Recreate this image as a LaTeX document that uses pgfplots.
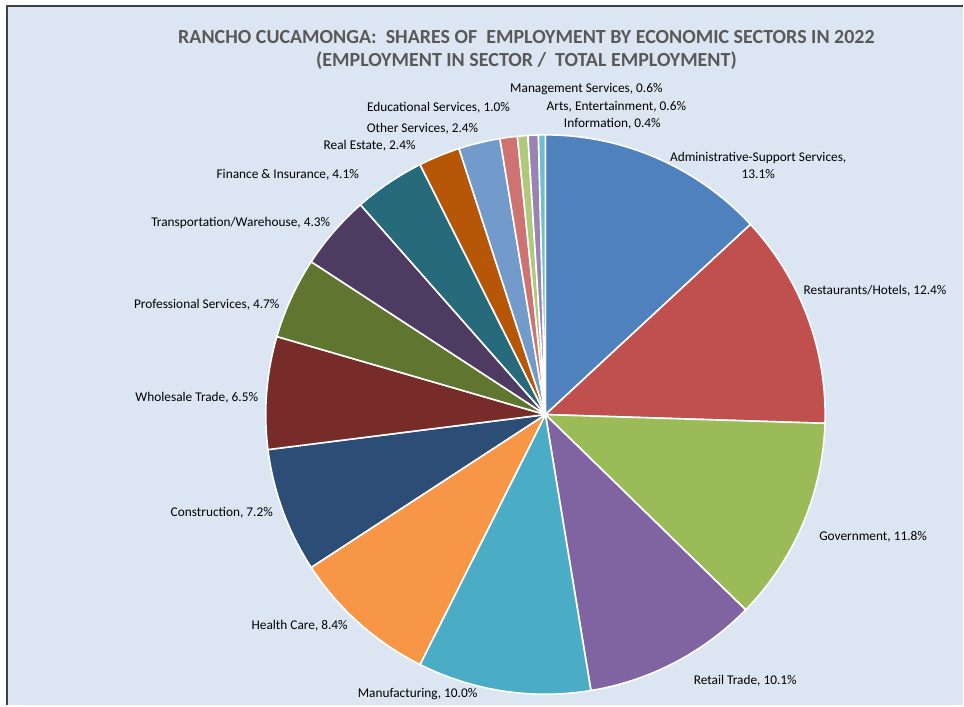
\documentclass[border=0pt]{standalone}
\usepackage{pgfplots}
\usepackage{pgfplotstable}
\pgfplotsset{compat=1.18}
\usepackage{fontspec}
\setmainfont{Carlito}
\definecolor{bg}{HTML}{DCE6F2}
\definecolor{frame}{HTML}{404040}
\definecolor{ttl}{HTML}{595959}
\definecolor{lbl}{HTML}{404040}
\definecolor{pc0}{HTML}{4F81BD}
\definecolor{pc1}{HTML}{C0504D}
\definecolor{pc2}{HTML}{9BBB59}
\definecolor{pc3}{HTML}{8064A2}
\definecolor{pc4}{HTML}{4BACC6}
\definecolor{pc5}{HTML}{F79646}
\definecolor{pc6}{HTML}{2C4D75}
\definecolor{pc7}{HTML}{772C2A}
\definecolor{pc8}{HTML}{5F7530}
\definecolor{pc9}{HTML}{4D3B62}
\definecolor{pc10}{HTML}{276A7C}
\definecolor{pc11}{HTML}{B65708}
\definecolor{pc12}{HTML}{729ACA}
\definecolor{pc13}{HTML}{CD7371}
\definecolor{pc14}{HTML}{AFC97A}
\definecolor{pc15}{HTML}{9983B5}
\definecolor{pc16}{HTML}{6FBDD1}
% shares of employment (percent), clockwise from 12 o'clock
\pgfplotstableread{
share
13.1
12.4
11.8
10.1
10.0
8.4
7.2
6.5
4.7
4.3
4.1
2.4
2.4
1.0
0.6
0.6
0.4
}\pietable
\begin{document}
\begin{tikzpicture}
\begin{axis}[
  x=0.75pt, y=0.75pt,
  xmin=0, xmax=964, ymin=0, ymax=706,
  hide axis, clip=false,
  every node/.style={font=\fontsize{9.6}{11.5}\selectfont, text=lbl, inner sep=0pt},
]
\fill[white] (axis cs:0,0) rectangle (axis cs:964,706);
\fill[bg] (axis cs:8,0) rectangle (axis cs:964,699);
\draw[frame, line width=1.5pt] (axis cs:7.5,0) -- (axis cs:7.5,699.5) -- (axis cs:964,699.5);
% pie slices
\pgfmathsetmacro\angstart{90}
\pgfplotstablegetrowsof{\pietable}
\pgfmathtruncatemacro\nrows{\pgfplotsretval-1}
\pgfplotsforeachungrouped \i in {0,...,\nrows}{%
  \pgfplotstablegetelem{\i}{share}\of\pietable
  \pgfmathsetmacro\angend{\angstart-3.6*\pgfplotsretval}%
  \edef\temp{\noexpand\fill[pc\i, draw=white, line width=1.2pt, line join=round] (axis cs:546,291) -- ++(\angstart:210pt) arc[start angle=\angstart, end angle=\angend, radius=210pt] -- cycle;}%
  \temp
  \global\let\angstart\angend
}
% title
\node[font=\bfseries\fontsize{15}{18}\selectfont, text=ttl] at (axis cs:527,669) {RANCHO CUCAMONGA:\ \ SHARES OF\ \ EMPLOYMENT BY ECONOMIC SECTORS IN 2022};
\node[font=\bfseries\fontsize{15}{18}\selectfont, text=ttl] at (axis cs:527,645) {(EMPLOYMENT IN SECTOR /\ \ TOTAL EMPLOYMENT)};
% labels
\node[align=center] at (axis cs:759,540) {Administrative-Support Services,\\[0.6pt]13.1\%};
\node at (axis cs:876,415) {Restaurants/Hotels, 12.4\%};
\node at (axis cs:874,169) {Government, 11.8\%};
\node at (axis cs:746,25) {Retail Trade, 10.1\%};
\node at (axis cs:418,11) {Manufacturing, 10.0\%};
\node at (axis cs:300,80) {Health Care, 8.4\%};
\node at (axis cs:222,193) {Construction, 7.2\%};
\node at (axis cs:197,308) {Wholesale Trade, 6.5\%};
\node at (axis cs:207,401) {Professional Services, 4.7\%};
\node at (axis cs:241,483) {Transportation/Warehouse, 4.3\%};
\node at (axis cs:288,531) {Finance \& Insurance, 4.1\%};
\node at (axis cs:370,560) {Real Estate, 2.4\%};
\node at (axis cs:423,577) {Other Services, 2.4\%};
\node at (axis cs:439,598) {Educational Services, 1.0\%};
\node at (axis cs:587,617) {Management Services, 0.6\%};
\node at (axis cs:617,599) {Arts, Entertainment, 0.6\%};
\node at (axis cs:613,582) {Information, 0.4\%};
\end{axis}
\end{tikzpicture}
\end{document}
